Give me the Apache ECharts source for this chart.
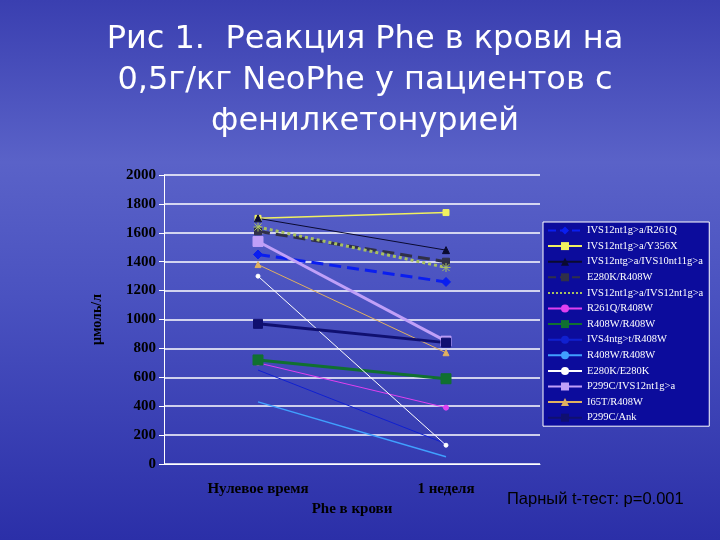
<!DOCTYPE html>
<html><head><meta charset="utf-8">
<script src="https://cdn.jsdelivr.net/npm/echarts@6/dist/echarts.min.js"></script>
<style>
html,body{margin:0;padding:0;}
#c{width:720px;height:540px;background:linear-gradient(180deg,#3a3fb0 0%,#5a62c8 30%,#4a52c0 55%,#2b2fa8 100%);}
</style></head><body><div id="c"></div>
<script>
const categories = ['Нулевое время', '1 неделя'];
const seriesNames = ['IVS12nt1g>a/R261Q','IVS12nt1g>a/Y356X','IVS12ntg>a/IVS10nt11g>a','E280K/R408W','IVS12nt1g>a/IVS12nt1g>a','R261Q/R408W','R408W/R408W','IVS4ntg>t/R408W','R408W/R408W ','E280K/E280K','P299C/IVS12nt1g>a','I65T/R408W','P299C/Ank'];
const values = [[1450,1260],[1700,1740],[1700,1480],[1610,1400],[1640,1360],[700,390],[720,590],[650,140],[430,50],[1300,130],[1540,850],[1380,770],[970,840]];
const colors = ['#0a1ef0','#f0f060','#0a0a30','#303048','#a8c060','#e040f0','#107030','#1020d0','#40a0ff','#ffffff','#c0a0f8','#e0b060','#101070'];
const symbols = ['diamond','rect','triangle','rect','path://M0,5L10,5M5,0L5,10M1,1L9,9M9,1L1,9','circle','rect','none','none','circle','rect','triangle','rect'];
const sizes = [9,6,7,7,9,5,10,0,0,4,10,6,9];
const widths = [3,1.5,1,3,3,1,3,1,1.5,1,3,1,3];
const types = ['dashed','solid','solid','dashed','dotted','solid','solid','solid','solid','solid','solid','solid','solid'];
const yTicks = [0,200,400,600,800,1000,1200,1400,1600,1800,2000];
const chart = echarts.init(document.getElementById('c'));
chart.setOption({
  title:{text:'Рис 1.  Реакция Phe в крови на\n0,5г/кг NeoPhe у пациентов с\nфенилкетонурией',left:360,textAlign:'center',top:14,
    textStyle:{color:'#fff',fontSize:32,fontWeight:'normal',fontFamily:'DejaVu Sans',lineHeight:41}},
  graphic:[{type:'text',left:507,top:491,style:{text:'Парный t-тест: p=0.001',fill:'#000',font:'16.5px "Liberation Sans"'}}],
  legend:{orient:'vertical',left:543,top:222,itemGap:4.6,itemWidth:34,itemHeight:10,padding:[3,6,3,4],
    backgroundColor:'#0c0c9c',borderColor:'#fff',borderWidth:1,
    textStyle:{color:'#fff',fontFamily:'Liberation Serif',fontSize:10.5},data:seriesNames},
  grid:{left:164,right:180,top:175,bottom:76},
  xAxis:{type:'category',data:categories,name:'Phe в крови',nameLocation:'middle',nameGap:36,
    nameTextStyle:{color:'#000',fontFamily:'Liberation Serif',fontWeight:'bold',fontSize:15},
    axisLine:{lineStyle:{color:'#fff'}},axisTick:{lineStyle:{color:'#fff'}},
    axisLabel:{color:'#000',fontFamily:'Liberation Serif',fontWeight:'bold',fontSize:15,margin:18}},
  yAxis:{type:'value',min:0,max:2000,interval:200,name:'µмоль/л',nameLocation:'middle',nameGap:60,
    nameTextStyle:{color:'#000',fontFamily:'Liberation Serif',fontWeight:'bold',fontSize:14},
    axisLine:{show:true,lineStyle:{color:'#fff'}},axisTick:{show:true,lineStyle:{color:'#fff'}},
    splitLine:{lineStyle:{color:'#fff',width:1.5}},
    axisLabel:{color:'#000',fontFamily:'Liberation Serif',fontWeight:'bold',fontSize:15,
      formatter:v=>yTicks.includes(v)?String(v):''}},
  series:seriesNames.map((n,i)=>({name:n,type:'line',data:values[i],symbol:symbols[i],symbolSize:sizes[i],
    showSymbol:sizes[i]>0,color:colors[i],itemStyle:{color:colors[i],borderColor:colors[i]},
    lineStyle:{color:colors[i],width:widths[i],type:types[i]},animation:false}))
});
</script></body></html>
